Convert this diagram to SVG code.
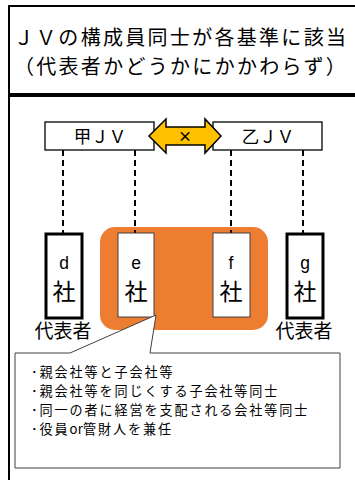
<svg xmlns="http://www.w3.org/2000/svg" width="355" height="480" viewBox="0 0 355 480">
<style>
text{font-family:"Noto Sans CJK JP","Noto Sans",sans-serif;fill:#000}
.frame{fill:#fff;stroke:#000;stroke-width:2}
.jv{fill:#fff;stroke:#000;stroke-width:1.3}
.thick{fill:#fff;stroke:#000;stroke-width:3}
.thin{fill:#fff;stroke:#404040;stroke-width:1}
.dash{stroke:#000;stroke-width:2;stroke-dasharray:6 4;fill:none}
.title{font-size:20px;letter-spacing:2.3px}
.t17{font-size:17.5px}
.t13{font-size:13.1px;letter-spacing:1.9px}
.tight{letter-spacing:0.3px}
.t19{font-size:19px}
.co{font-family:"Liberation Sans","Noto Sans CJK JP",sans-serif;font-size:17.5px}
.sha{font-size:23px}
</style>
<rect width="355" height="480" fill="#fff"/>
<g id="header">
<rect class="frame" x="9" y="6" width="352" height="88"/>
<text class="title" x="181" y="45" text-anchor="middle">ＪＶの構成員同士が各基準に該当</text>
<text class="title" x="181" y="74" text-anchor="middle">（代表者かどうかにかかわらず）</text>
</g>
<g id="body">
<rect class="frame" x="9" y="96" width="352" height="392"/>
</g>
<g id="group-ef">
<rect x="100" y="227" width="168" height="103" rx="15" fill="#ED7D31"/>
</g>
<g id="connectors">
<line class="dash" x1="63" y1="150" x2="63" y2="233"/>
<line class="dash" x1="135" y1="150" x2="135" y2="233"/>
<line class="dash" x1="231" y1="150" x2="231" y2="233"/>
<line class="dash" x1="303" y1="150" x2="303" y2="233"/>
</g>
<g id="jv-kou">
<rect class="jv" x="45" y="122" width="109" height="28"/>
<text class="t17" x="100" y="143" text-anchor="middle">甲ＪＶ</text>
</g>
<g id="jv-otsu">
<rect class="jv" x="213" y="122" width="109" height="28"/>
<text class="t17" x="268" y="143" text-anchor="middle">乙ＪＶ</text>
</g>
<g id="arrow">
<polygon points="149,136 166,119 166,127 205,127 205,119 221,136 205,153 205,145 166,145 166,153" fill="#FFC000" stroke="#000" stroke-width="1.5" stroke-linejoin="miter"/>
<text x="185" y="141" text-anchor="middle" font-size="14" font-weight="bold">×</text>
</g>
<g id="company-d">
<rect class="thick" x="46" y="234" width="36" height="84"/>
<text class="co" x="64" y="269" text-anchor="middle">d</text>
<text class="sha" x="64" y="299.5" text-anchor="middle">社</text>
<text class="t19" x="63" y="338" text-anchor="middle">代表者</text>
</g>
<g id="company-e">
<rect class="thin" x="118" y="233" width="36" height="84"/>
<text class="co" x="136" y="269" text-anchor="middle">e</text>
<text class="sha" x="136" y="299.5" text-anchor="middle">社</text>
</g>
<g id="company-f">
<rect class="thin" x="213" y="233" width="37" height="84"/>
<text class="co" x="231" y="269" text-anchor="middle">f</text>
<text class="sha" x="231" y="299.5" text-anchor="middle">社</text>
</g>
<g id="company-g">
<rect class="thick" x="287" y="234" width="36" height="84"/>
<text class="co" x="305" y="269" text-anchor="middle">g</text>
<text class="sha" x="305" y="299.5" text-anchor="middle">社</text>
<text class="t19" x="304" y="338" text-anchor="middle">代表者</text>
</g>
<g id="callout">
<polygon points="15,353 70,353 156,315 150,353 340,353 340,468 15,468" fill="#fff" stroke="#404040" stroke-width="1"/>
<text class="t13" x="31" y="377">･親会社等と子会社等</text>
<text class="t13" x="31" y="396">･親会社等を同じくする子会社等同士</text>
<text class="t13" x="31" y="415">･同一の者に経営を支配される会社等同士</text>
<text class="t13" x="31" y="434">･役員<tspan class="tight">or</tspan>管財人を兼任</text>
</g>
</svg>
